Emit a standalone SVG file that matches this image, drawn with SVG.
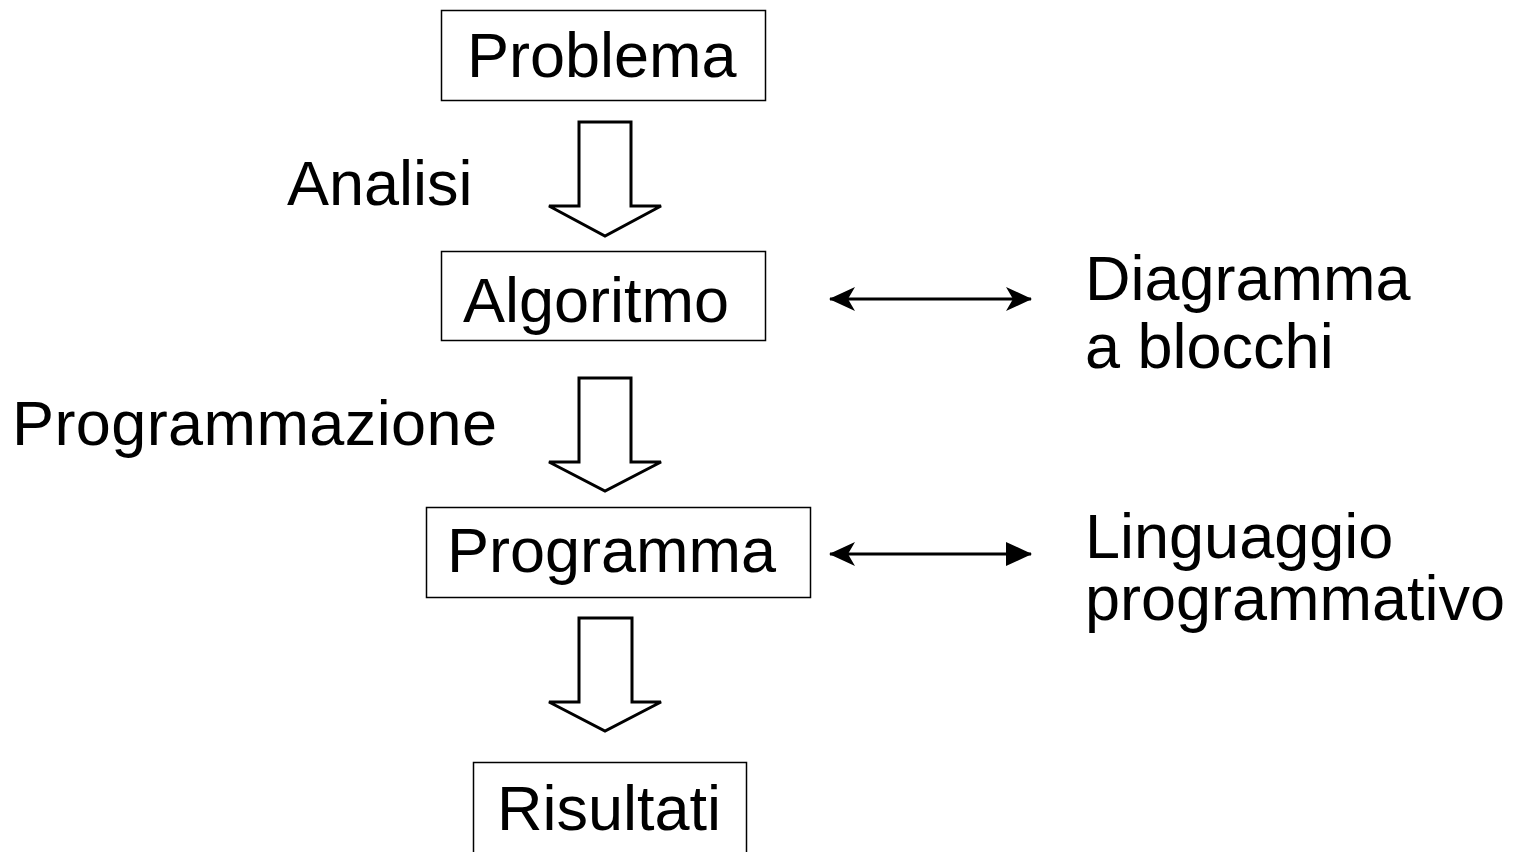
<svg xmlns="http://www.w3.org/2000/svg" width="1520" height="852" viewBox="0 0 1520 852">
<style>
.box{fill:#fff;stroke:#000;stroke-width:1.5}
.t{font-family:"Liberation Sans",Arial,sans-serif;font-size:63px;fill:#000}
.big{fill:#fff;stroke:#000;stroke-width:3;stroke-linejoin:miter}
.dbl{stroke:#000;stroke-width:3;fill:none}
</style>
<defs>
<marker id="st" viewBox="0 0 26 26" refX="25" refY="13" markerWidth="26" markerHeight="26" markerUnits="userSpaceOnUse" orient="auto-start-reverse">
<path d="M26,13 L0,1 L7,13 L0,25 Z" fill="#000"/>
</marker>
<marker id="tri" viewBox="0 0 26 26" refX="25" refY="13" markerWidth="26" markerHeight="26" markerUnits="userSpaceOnUse" orient="auto">
<path d="M26,13 L0,1 L0,25 Z" fill="#000"/>
</marker>
</defs>
<rect width="1520" height="852" fill="#fff"/>
<g id="problema"><rect class="box" x="441.5" y="10.5" width="324" height="90"/><text class="t" x="467" y="77">Problema</text></g>
<g id="algoritmo"><rect class="box" x="441.5" y="251.5" width="324" height="89"/><text class="t" x="463" y="322">Algoritmo</text></g>
<g id="programma"><rect class="box" x="426.5" y="507.5" width="384" height="90"/><text class="t" x="447" y="572">Programma</text></g>
<g id="risultati"><rect class="box" x="473.5" y="762.5" width="273" height="100"/><text class="t" x="497" y="830">Risultati</text></g>
<g id="labels">
<text class="t" x="287" y="205">Analisi</text>
<text class="t" x="12" y="445" textLength="485">Programmazione</text>
<text class="t" x="1085" y="300">Diagramma</text>
<text class="t" x="1085" y="368">a blocchi</text>
<text class="t" x="1085" y="558">Linguaggio</text>
<text class="t" x="1085" y="620">programmativo</text>
</g>
<g id="connectors">
<path class="big" d="M579,122 H631 V206 H661 L605,236 L549,206 H579 Z"/>
<path class="big" d="M579,378 H631 V462 H661 L605,491 L549,462 H579 Z"/>
<path class="big" d="M579,618 H632 V702 H661 L605,731 L549,702 H579 Z"/>
<line class="dbl" x1="830" y1="299" x2="1031" y2="299" marker-start="url(#st)" marker-end="url(#st)"/>
<line class="dbl" x1="830" y1="554" x2="1031" y2="554" marker-start="url(#st)" marker-end="url(#tri)"/>
</g>
</svg>
